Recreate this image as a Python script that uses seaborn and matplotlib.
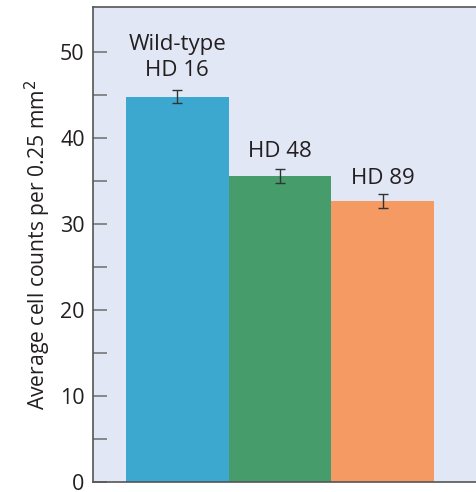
import matplotlib
matplotlib.use("Agg")
import matplotlib.pyplot as plt
import seaborn as sns
import pandas as pd

# data
groups = ["Wild-type\nHD 16", "HD 48", "HD 89"]
means = [44.8, 35.6, 32.7]
errors = [0.8, 0.8, 0.8]
colors = ["#3ca8cf", "#479c6b", "#f69a63"]
label_y = [47.2, 37.8, 34.65]   # baseline of the lowest label line

df = pd.DataFrame({"group": groups, "mean": means})

sns.set_style("white")
plt.rcParams["font.family"] = ["Open Sans", "DejaVu Sans"]

fig = plt.figure(figsize=(4.77, 4.92), dpi=100)
ax = fig.add_axes([0.195, 0.0203, 0.81, 0.9654])
ax.set_facecolor("#e1e7f4")

sns.barplot(data=df, x="group", y="mean", hue="group", palette=colors,
            width=1.0, errorbar=None, legend=False, ax=ax, saturation=1,
            linewidth=0)
ax.errorbar(range(len(means)), means, yerr=errors, fmt="none",
            ecolor="#333333", elinewidth=1, capsize=3.5, capthick=1)

# labels above bars, one line at a time (line gap ~3 units)
for i, (g, ly) in enumerate(zip(groups, label_y)):
    lines = g.split("\n")[::-1]
    for k, line in enumerate(lines):
        ax.text(i, ly + k * 2.95, line, ha="center", va="baseline",
                fontsize=16, color="#231f20")

ax.set_xlim(-0.82, 2.94)
ax.set_ylim(0, 55.2)
ax.set_yticks([0, 10, 20, 30, 40, 50])
ax.set_yticks([5, 15, 25, 35, 45], minor=True)
ax.tick_params(axis="y", which="both", direction="in", length=10, width=1.2,
               color="#777777", left=True, labelsize=15.5,
               labelcolor="#231f20", pad=6)
ax.set_xticks([])
ax.set_xlabel("")
ax.set_ylabel("Average cell counts per 0.25 mm$^2$", fontsize=15.2,
              color="#231f20", labelpad=5)

for s in ["left", "bottom", "top"]:
    ax.spines[s].set_color("#555555")
    ax.spines[s].set_linewidth(1.2)
ax.spines["right"].set_visible(False)

fig.savefig("out.png", dpi=100)
